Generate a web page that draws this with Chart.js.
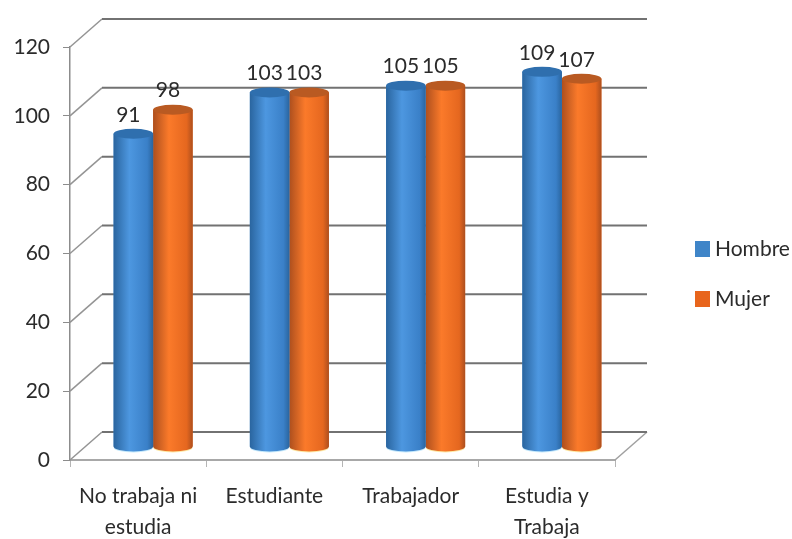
<!DOCTYPE html>
<html>
<head>
<meta charset="utf-8">
<style>
  html, body { margin: 0; padding: 0; background: #fff; }
  canvas { display: block; }
</style>
<script src="https://cdn.jsdelivr.net/npm/chart.js@4"></script>
</head>
<body>
<canvas id="chart" width="792" height="539"></canvas>
<script>
const categories = [["No trabaja ni", "estudia"], "Estudiante", "Trabajador", ["Estudia y", "Trabaja"]];
const hombre = [91, 103, 105, 109];
const mujer = [98, 103, 105, 107];
const yTicks = [0, 20, 40, 60, 80, 100, 120];

const fontName = "Lato, 'Open Sans', sans-serif";
const textColor = "#2b2b2b";

// depth of the fake 3D box, bars sit half way in
const depthX = 32;
const depthY = -28;
const barX = 15;
const barY = -13;

const walls = {
  id: "walls",
  beforeDatasetsDraw(chart) {
    const ctx = chart.ctx;
    const y = chart.scales.y;
    const area = chart.chartArea;
    ctx.save();
    // floor
    ctx.strokeStyle = "#a0a0a0";
    ctx.lineWidth = 1.5;
    ctx.beginPath();
    ctx.moveTo(area.right, area.bottom);
    ctx.lineTo(area.right + depthX, area.bottom + depthY);
    ctx.stroke();
    yTicks.forEach((t) => {
      const py = y.getPixelForValue(t);
      ctx.strokeStyle = "#949494";
      ctx.lineWidth = 1.5;
      ctx.beginPath();
      ctx.moveTo(area.left, py);
      ctx.lineTo(area.left + depthX, py + depthY);
      ctx.stroke();
      ctx.strokeStyle = "#727272";
      ctx.lineWidth = 2;
      ctx.beginPath();
      ctx.moveTo(area.left + depthX, py + depthY);
      ctx.lineTo(area.right + depthX, py + depthY);
      ctx.stroke();
    });
    ctx.restore();
    // the bars are drawn in the middle of the box
    ctx.save();
    ctx.translate(barX, barY);
  },
  afterDatasetsDraw(chart) {
    chart.ctx.restore();
  },
};

const shades = [
  { dark: "#2a659f", mid: "#4d97e0", light: "#3a80c8", top: "#2f6fae", foot: "#c4e8fb" },
  { dark: "#ad4f1e", mid: "#fb7a2a", light: "#e5671f", top: "#b95a22", foot: "#fdeaa8" },
];

// rounds off the flat bars into cylinders
const cylinders = {
  id: "cylinders",
  afterDatasetDraw(chart, args) {
    const ctx = chart.ctx;
    const s = shades[args.index];
    args.meta.data.forEach((bar) => {
      const left = bar.x - bar.width / 2;
      const right = bar.x + bar.width / 2;
      const rx = bar.width / 2;
      const ry = 5;
      const grad = ctx.createLinearGradient(left, 0, right, 0);
      grad.addColorStop(0, s.dark);
      grad.addColorStop(0.4, s.mid);
      grad.addColorStop(0.85, s.light);
      grad.addColorStop(1, s.dark);
      ctx.save();
      ctx.fillStyle = s.foot;
      ctx.beginPath();
      ctx.ellipse(bar.x, bar.base + 1, rx, ry, 0, 0, Math.PI);
      ctx.fill();
      ctx.fillStyle = grad;
      ctx.beginPath();
      ctx.moveTo(left, bar.y);
      ctx.lineTo(right, bar.y);
      ctx.lineTo(right, bar.base);
      ctx.ellipse(bar.x, bar.base, rx, ry, 0, 0, Math.PI);
      ctx.closePath();
      ctx.fill();
      ctx.fillStyle = s.top;
      ctx.beginPath();
      ctx.ellipse(bar.x, bar.y, rx, ry, 0, 0, Math.PI * 2);
      ctx.fill();
      ctx.restore();
    });
  },
};

const valueLabels = {
  id: "valueLabels",
  afterDraw(chart) {
    const ctx = chart.ctx;
    ctx.save();
    ctx.font = "21px " + fontName;
    ctx.fillStyle = textColor;
    ctx.textAlign = "center";
    ctx.textBaseline = "middle";
    chart.data.datasets.forEach((ds, i) => {
      chart.getDatasetMeta(i).data.forEach((bar, j) => {
        ctx.fillText(ds.data[j], bar.x + barX - 5, bar.y + barY - 19);
      });
    });
    ctx.restore();
  },
};

const legendBox = {
  id: "legendBox",
  afterDraw(chart) {
    const ctx = chart.ctx;
    const rows = [249, 299];
    const swatch = ["#3f85c8", "#e8651c"];
    ctx.save();
    ctx.font = "21px " + fontName;
    ctx.textBaseline = "middle";
    chart.data.datasets.forEach((ds, i) => {
      ctx.fillStyle = swatch[i];
      ctx.fillRect(695, rows[i] - 8, 15, 16);
      ctx.fillStyle = textColor;
      ctx.fillText(ds.label, 715, rows[i]);
    });
    ctx.restore();
  },
};

const config = {
  type: "bar",
  data: {
    labels: categories,
    datasets: [
      { label: "Hombre", data: hombre, backgroundColor: "#3f85c8" },
      { label: "Mujer", data: mujer, backgroundColor: "#e8651c" },
    ],
  },
  plugins: [walls, cylinders, valueLabels, legendBox],
  options: {
    responsive: false,
    animation: false,
    layout: { padding: { top: 47, right: 177, left: 0, bottom: 0 } },
    plugins: { legend: { display: false }, tooltip: { enabled: false } },
    datasets: { bar: { categoryPercentage: 0.58, barPercentage: 1 } },
    scales: {
      x: {
        afterFit: (s) => { s.height = 79; },
        border: { color: "#a8a8a8", width: 2 },
        grid: { drawOnChartArea: false, color: "#b5b5b5", tickLength: 7 },
        ticks: {
          color: textColor,
          padding: 14,
          maxRotation: 0,
          autoSkip: false,
          font: { family: fontName, size: 21, lineHeight: 1.48 },
        },
      },
      y: {
        min: 0,
        max: 120,
        afterFit: (s) => { s.width = 70; },
        afterBuildTicks: (s) => { s.ticks = yTicks.map((v) => ({ value: v })); },
        border: { color: "#8c8c8c", width: 1.5 },
        grid: { drawOnChartArea: false, color: "#8c8c8c", tickLength: 7 },
        ticks: {
          color: textColor,
          padding: 13,
          font: { family: fontName, size: 21 },
        },
      },
    },
  },
};

new Chart(document.getElementById("chart"), config);
</script>
</body>
</html>
